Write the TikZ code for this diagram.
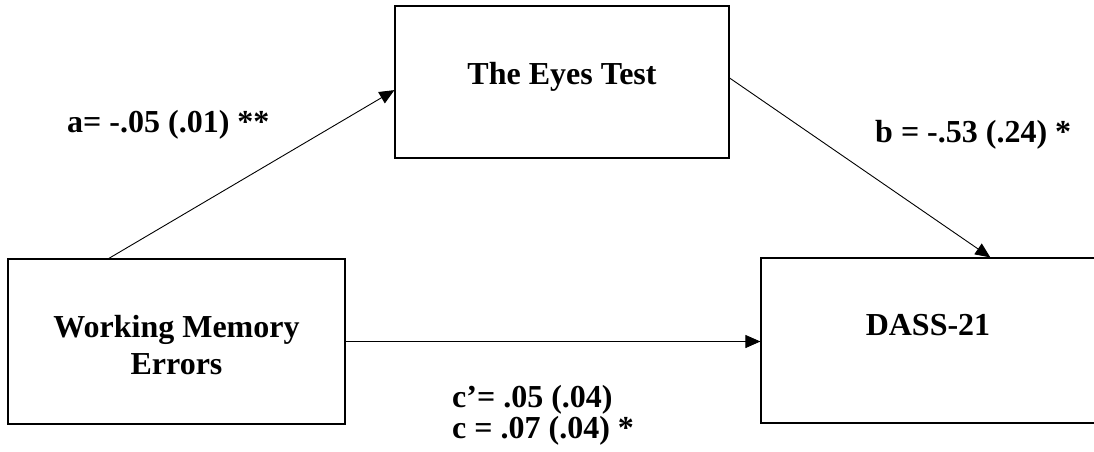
\documentclass[tikz,border=0pt]{standalone}
\usepackage{fontspec}
\setmainfont{Liberation Serif}
\usetikzlibrary{arrows.meta,calc}
\begin{document}
\begin{tikzpicture}[x=1pt,y=-1pt,
  box/.style={draw, line width=1.2pt, inner sep=0pt, minimum width=#1},
  box/.default=334pt,
  txt/.style={inner sep=0pt, anchor=base, font=\fontsize{32}{37}\selectfont\bfseries},
  lab/.style={inner sep=0pt, anchor=base west, font=\fontsize{32}{28}\selectfont\bfseries},
  arr/.style={line width=0.9pt, -{Triangle[length=15pt,width=13pt]}, shorten >=0pt}]
\useasboundingbox (0,0) rectangle (1094,452);
% boxes
\node[box=334pt, minimum height=152pt] (eyes) at (562,82) {};
\node[box=337pt, minimum height=165pt] (wm) at (176.5,341.5) {};
\node[box=334pt, minimum height=165pt] (dass) at (928,340.5) {};
% box texts
\node[txt] (eyesT) at (562,84) {The Eyes Test};
\node[txt] (wmT1) at (176.5,337) {Working Memory};
\node[txt] (wmT2) at (176.5,374) {Errors};
\node[txt] (dassT) at (928,335) {DASS-21};
% path labels
\node[lab] (la) at (67,132) {a= -.05 (.01) **};
\node[lab] (lb) at (875,142) {b = -.53 (.24) *};
\node[lab] (lc1) at (452,407) {c’= .05 (.04)};
\node[lab] (lc2) at (452,438) {c = .07 (.04) *};
% connectors
\draw[arr] ($(wm.north west)!0.3!(wm.north east)$) -- ($(eyes.north west)!0.553!(eyes.south west)$);
\draw[arr] ($(eyes.north east)!0.474!(eyes.south east)$) -- ($(dass.north west)!0.686!(dass.north east)$);
\draw[arr] (wm.east) -- (wm.east -| dass.west);
\end{tikzpicture}
\end{document}
